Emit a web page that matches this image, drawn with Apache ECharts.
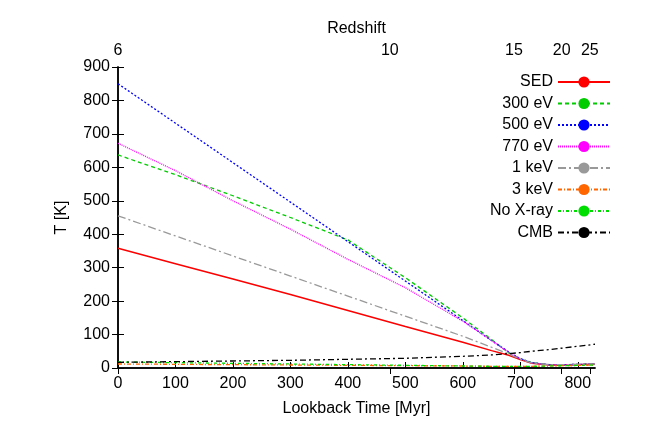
<!DOCTYPE html><html><head><meta charset="utf-8"><script src="https://cdn.jsdelivr.net/npm/echarts@6/dist/echarts.min.js"></script></head><body style="margin:0"><div id="c" style="width:656px;height:438px"></div><script>
const times=[0,100,200,300,400,500,600,650,680,700,720,750,780,830];
const sed=[358,312,266,220,172,124,77,52,38,25,14,9,9,11];
const ev300=[637,578,515,450,383,270,150,85,45,28,16,10,10,12];
const ev500=[850,732,614,496,378,260,142,82,48,28,16,10,10,12];
const ev770=[672,590,500,415,325,240,140,82,46,27,15,10,10,12];
const kev1=[455,395,335,275,215,155,95,62,42,26,15,10,10,12];
const kev3=[12,11,10,9,8,7,6,5,5,5,5,6,7,9];
const noX=[18,16,14,12,10,8,6,5,5,5,5,6,7,9];
const cmb=[17,19,21,23,26,29,35,39,43,46,50,55,61,71];
const zLabels=[6,10,15,20,25];
const zPos=[0,473,689,772,821];
const names=['SED','300 eV','500 eV','770 eV','1 keV','3 keV','No X-ray','CMB'];
const vals=[sed,ev300,ev500,ev770,kev1,kev3,noX,cmb];
const cols=['#ff0000','#00cc00','#0000ff','#ff00ff','#999999','#ff6600','#00dd00','#000000'];
const types=['solid',[4,3],[2,2],[1,1],[8,3,2,3],[4,2,1,2],[3,2,1,2],[6,3,2,3]];
const fam='Liberation Sans';
const c=echarts.init(document.getElementById('c'));
c.setOption({animation:false,textStyle:{fontFamily:fam},
grid:{left:118,right:61,top:67,bottom:70},
legend:{right:40,top:69,orient:'vertical',align:'right',itemWidth:52,itemHeight:14,itemGap:5.5,textStyle:{fontSize:16,color:'#000',fontFamily:fam},data:names},
xAxis:[{type:'value',min:0,max:830,interval:100,name:'Lookback Time [Myr]',nameLocation:'middle',nameGap:33,nameTextStyle:{fontSize:16,color:'#000'},axisLine:{onZero:false,lineStyle:{color:'#000',width:1.5}},axisTick:{inside:true,length:6,lineStyle:{color:'#000'}},axisLabel:{fontSize:16,color:'#000'},splitLine:{show:false}},
{type:'value',position:'top',min:0,max:830,name:'Redshift',nameLocation:'middle',nameGap:30,nameTextStyle:{fontSize:16,color:'#000'},axisLine:{lineStyle:{color:'#000',width:1.5}},axisTick:{inside:true,length:6,customValues:zPos,lineStyle:{color:'#000'}},axisLabel:{fontSize:16,color:'#000',customValues:zPos,formatter:v=>{const i=zPos.indexOf(v);return i>=0?String(zLabels[i]):'';}},splitLine:{show:false}}],
yAxis:[{type:'value',min:0,max:900,interval:100,name:'T [K]',nameLocation:'middle',nameGap:48,nameTextStyle:{fontSize:16,color:'#000'},axisLine:{show:true,lineStyle:{color:'#000',width:1.5}},axisTick:{inside:true,length:6,lineStyle:{color:'#000'}},axisLabel:{fontSize:16,color:'#000'},splitLine:{show:false}},
{type:'value',position:'right',min:0,max:900,interval:100,axisLine:{show:true,lineStyle:{color:'#000',width:1.5}},axisTick:{inside:true,length:6,lineStyle:{color:'#000'}},axisLabel:{show:false},splitLine:{show:false}}],
series:names.map((n,i)=>({name:n,type:'line',symbol:'none',data:times.map((t,j)=>[t,vals[i][j]]),lineStyle:{color:cols[i],width:i==0?1.5:1.3,type:types[i]},itemStyle:{color:cols[i]}}))});
</script></body></html>
